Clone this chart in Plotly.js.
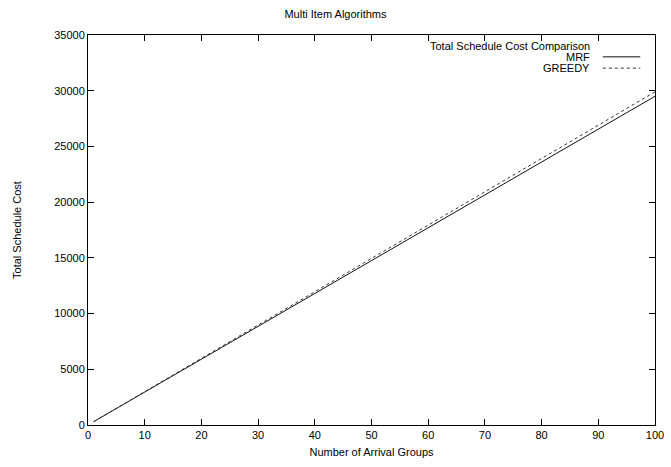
<!DOCTYPE html>
<html>
<head>
<meta charset="utf-8">
<script src="https://cdn.plot.ly/plotly-3.0.1.min.js"></script>
<style>html,body{margin:0;padding:0;background:#fff;}#chart{width:671px;height:467px;}</style>
</head>
<body>
<div id="chart"></div>
<script>
const groups = [1,5,10,15,20,25,30,35,40,45,50,55,60,65,70,75,80,85,90,95,100];
const mrf    = [300,1480,2950,4420,5900,7370,8850,10330,11800,13270,14750,16230,17700,19180,20650,22130,23600,25080,26550,28030,29500];
const greedy = [300,1500,2990,4480,5980,7470,8970,10460,11960,13450,14950,16440,17940,19430,20930,22420,23920,25410,26910,28400,29900];
const seriesNames = ['MRF','GREEDY'];
const legendTitle = 'Total Schedule Cost Comparison';

const font = {family: 'Liberation Sans, Arial, sans-serif', size: 11, color: '#000'};

const traces = [
  {x: groups, y: mrf, name: seriesNames[0], mode: 'lines', line: {color: '#111', width: 1, dash: 'solid'}, showlegend: false},
  {x: groups, y: greedy, name: seriesNames[1], mode: 'lines', line: {color: '#333', width: 1, dash: 'dot'}, showlegend: false}
];

const layout = {
  width: 671, height: 467,
  margin: {l: 88, r: 16, t: 35, b: 42},
  paper_bgcolor: '#fff', plot_bgcolor: '#fff',
  font: font,
  title: {text: 'Multi Item Algorithms', font: {family: font.family, size: 11}, x: 0.5, xanchor: 'center', y: 0.97, yanchor: 'middle'},
  xaxis: {
    range: [0, 100], dtick: 10, tick0: 0,
    showline: true, linecolor: '#000', linewidth: 1, mirror: 'ticks',
    ticks: 'inside', ticklen: 6, tickcolor: '#000',
    showgrid: false, zeroline: false,
    tickfont: {family: font.family, size: 11},
    title: {text: 'Number of Arrival Groups', font: {family: font.family, size: 11}, standoff: 8}
  },
  yaxis: {
    range: [0, 35000], dtick: 5000, tick0: 0, tickformat: 'd',
    showline: true, linecolor: '#000', linewidth: 1, mirror: 'ticks',
    ticks: 'inside', ticklen: 6, tickcolor: '#000',
    showgrid: false, zeroline: false,
    tickfont: {family: font.family, size: 11},
    title: {text: 'Total Schedule Cost', font: {family: font.family, size: 11}, standoff: 30}
  },
  annotations: [
    {xref: 'paper', yref: 'paper', x: 0.889, y: 0.972, xanchor: 'right', yanchor: 'middle', text: legendTitle, showarrow: false, font: {family: font.family, size: 11}},
    {xref: 'paper', yref: 'paper', x: 0.889, y: 0.944, xanchor: 'right', yanchor: 'middle', text: seriesNames[0], showarrow: false, font: {family: font.family, size: 11}},
    {xref: 'paper', yref: 'paper', x: 0.889, y: 0.915, xanchor: 'right', yanchor: 'middle', text: seriesNames[1], showarrow: false, font: {family: font.family, size: 11}}
  ],
  shapes: [
    {type: 'line', xref: 'paper', yref: 'paper', x0: 0.908, x1: 0.974, y0: 0.944, y1: 0.944, line: {color: '#111', width: 1, dash: 'solid'}},
    {type: 'line', xref: 'paper', yref: 'paper', x0: 0.908, x1: 0.974, y0: 0.915, y1: 0.915, line: {color: '#333', width: 1, dash: 'dot'}}
  ]
};

Plotly.newPlot('chart', traces, layout, {displayModeBar: false, staticPlot: true});
</script>
</body>
</html>
